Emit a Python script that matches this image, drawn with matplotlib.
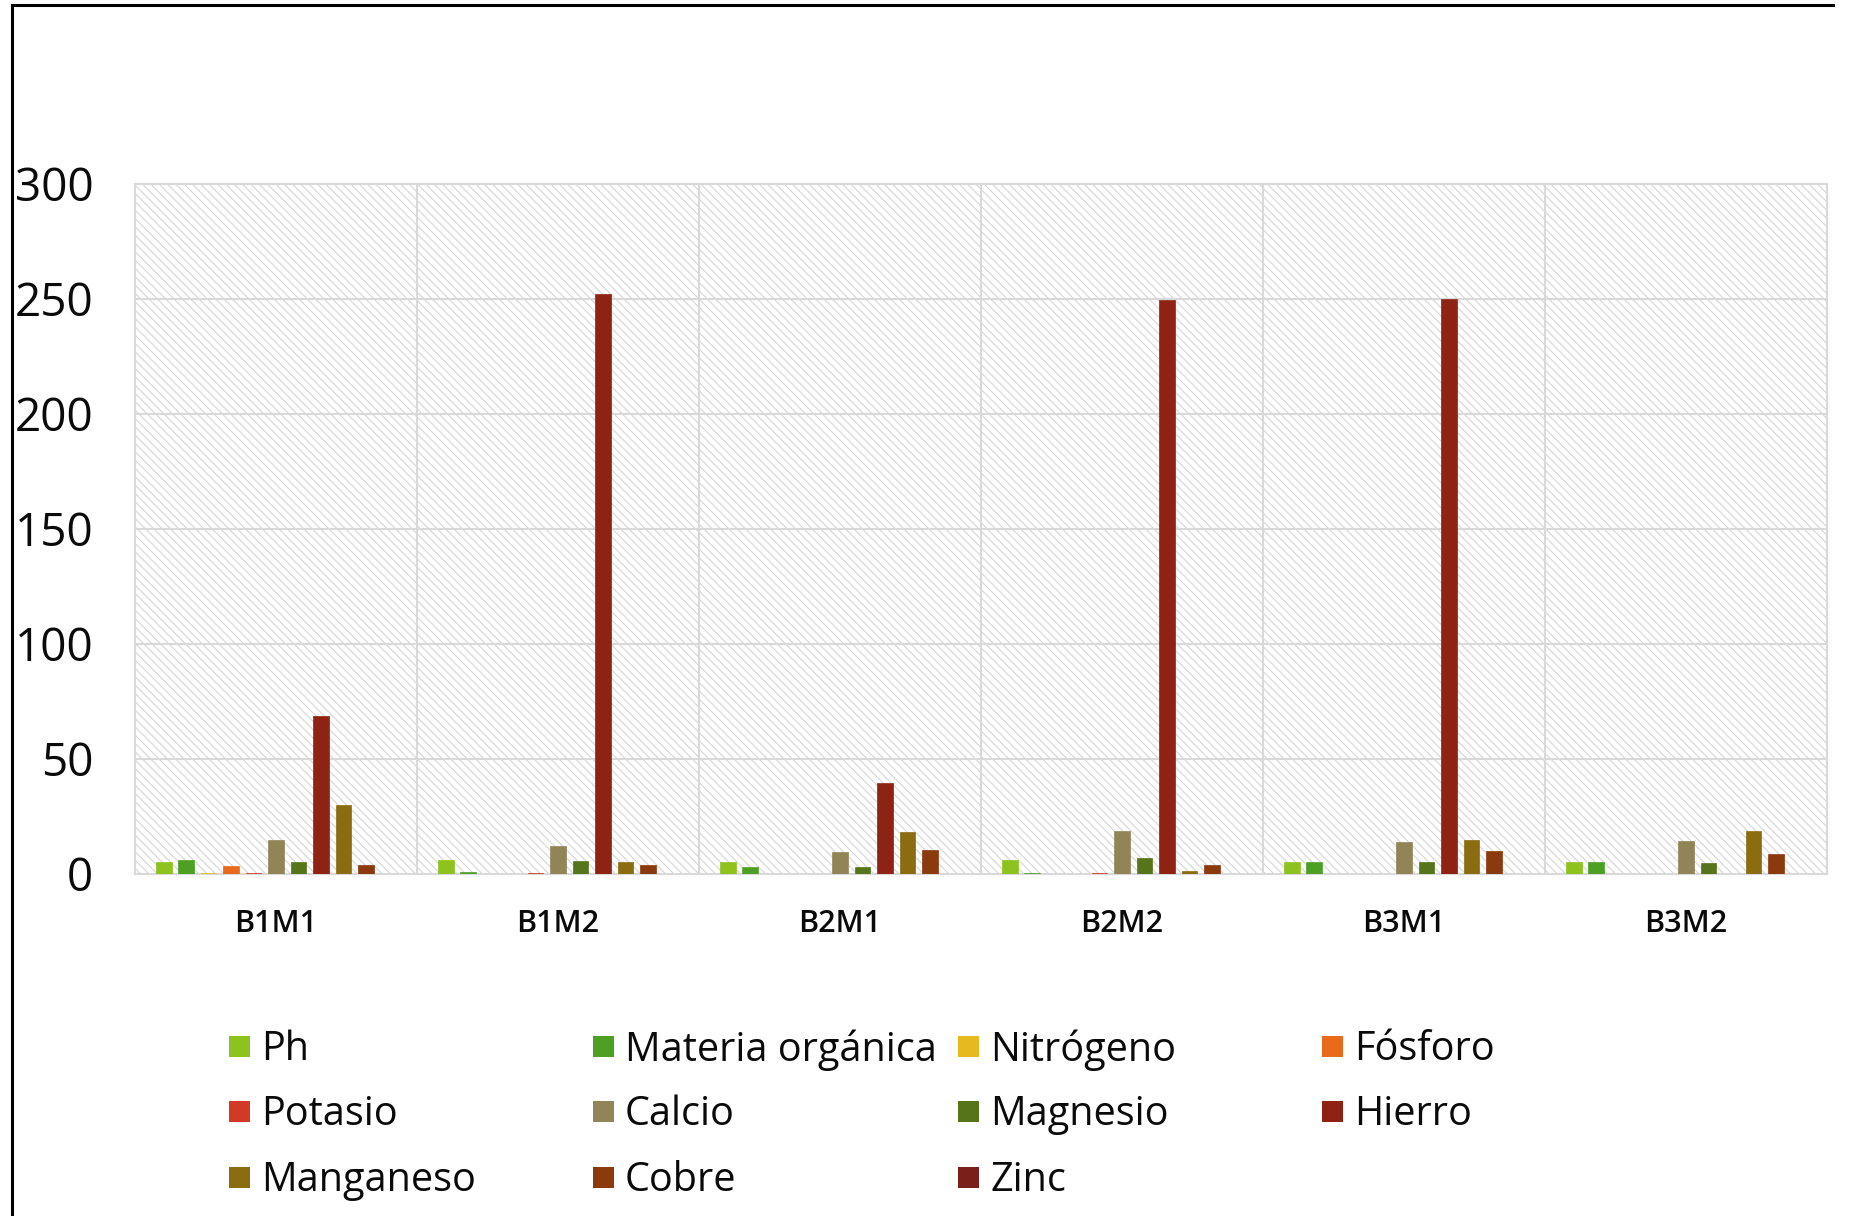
import matplotlib.pyplot as plt
from matplotlib.patches import Rectangle
from matplotlib.lines import Line2D
import numpy as np

plt.rcParams['font.family'] = ['Open Sans', 'DejaVu Sans']

categories = ['B1M1', 'B1M2', 'B2M1', 'B2M2', 'B3M1', 'B3M2']
series = ['Ph', 'Materia orgánica', 'Nitrógeno', 'Fósforo', 'Potasio', 'Calcio',
          'Magnesio', 'Hierro', 'Manganeso', 'Cobre', 'Zinc']

ph = [5.4, 6.2, 5.2, 6.1, 5.2, 5.4]
materia = [5.9, 1.0, 3.2, 0.3, 5.1, 5.4]
nitrogeno = [0.4, 0, 0, 0, 0, 0]
fosforo = [3.6, 0, 0, 0, 0, 0]
potasio = [0.3, 0.3, 0, 0.4, 0, 0]
calcio = [14.9, 12.0, 9.4, 18.8, 13.8, 14.2]
magnesio = [5.1, 5.8, 2.8, 7.0, 5.4, 4.6]
hierro = [68.8, 252.2, 39.4, 249.6, 250.2, 0]
manganeso = [30.1, 5.2, 18.4, 1.4, 14.9, 18.8]
cobre = [3.8, 3.9, 10.6, 4.1, 9.9, 8.8]
zinc = [0, 0, 0, 0, 0, 0]

values = [ph, materia, nitrogeno, fosforo, potasio, calcio,
          magnesio, hierro, manganeso, cobre, zinc]
colors = ['#8DC21F', '#4EA024', '#E6B91E', '#E86A1A', '#D03A26', '#918558',
          '#56741A', '#8E2313', '#8B6C10', '#8B3A0E', '#7A1F1A']

fig = plt.figure(figsize=(18.6, 12.16), dpi=100)
ax = fig.add_axes([0.0726, 0.2813, 0.9097, 0.5674])

x = np.arange(len(categories))
step = 0.0797
width = 0.0557
n = len(series)

# hatched plot area
plt.rcParams['hatch.linewidth'] = 0.8
ax.add_patch(Rectangle((0, 0), 1, 1, transform=ax.transAxes, facecolor='white',
                       edgecolor='#d6d6d6', hatch='\\\\\\\\', lw=0, zorder=0))

for i, (name, vals, c) in enumerate(zip(series, values, colors)):
    ax.bar(x + (i - (n - 1) / 2) * step, vals, width, color=c,
           edgecolor=c, linewidth=0.5, zorder=3, label=name)

ax.set_xlim(-0.5, len(categories) - 0.5)
ax.set_ylim(0, 300)
ax.set_yticks(np.arange(0, 301, 50))
ax.set_xticks(x)
ax.set_xticklabels(categories, fontweight='semibold')

for v in np.arange(50, 300, 50):
    ax.axhline(v, color='#d9d9d9', lw=1.5, zorder=1)
for b in np.arange(0.5, len(categories) - 1, 1):
    ax.axvline(b, color='#d9d9d9', lw=1.5, zorder=1)

for s in ax.spines.values():
    s.set_color('#d9d9d9')
    s.set_linewidth(1.5)
ax.tick_params(axis='y', length=0, pad=30, labelsize=33, labelcolor='#0a0a0a')
ax.tick_params(axis='x', length=0, pad=25, labelsize=22, labelcolor='#0a0a0a')

# legend laid out in an even grid, four per row
col_x = [229, 593, 958, 1322]
row_y = [1046, 1111, 1177]
W, H = 1860, 1216
for i, (name, c) in enumerate(zip(series, colors)):
    cx = col_x[i % 4]
    cy = row_y[i // 4]
    fig.patches.append(Rectangle((cx / W, (H - cy - 10.5) / H), 21 / W, 21 / H,
                                 transform=fig.transFigure, facecolor=c, edgecolor='none'))
    fig.text((cx + 32) / W, (H - cy - 4) / H, name, fontsize=28.5, va='center',
             ha='left', color='#0a0a0a')

# outer frame
fig.add_artist(Line2D([12 / W, 12 / W], [0, 1 - 5 / H], color='black', lw=2.2,
                      transform=fig.transFigure))
fig.add_artist(Line2D([12 / W, 1833 / W], [1 - 5 / H, 1 - 5 / H], color='black', lw=2.2,
                      transform=fig.transFigure))

fig.savefig('out.png', dpi=100)
